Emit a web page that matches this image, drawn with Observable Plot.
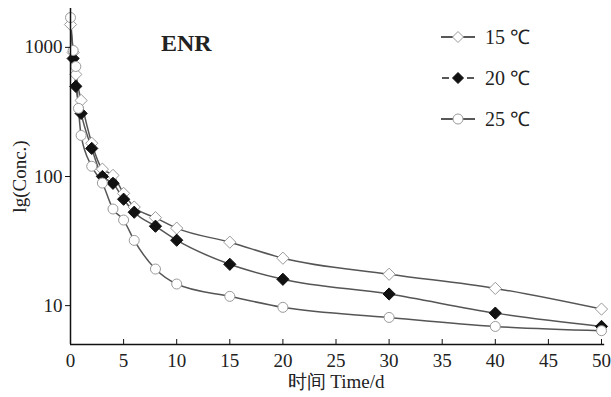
<!DOCTYPE html>
<html><head><meta charset="utf-8">
<script src="https://cdn.jsdelivr.net/npm/d3@7"></script>
<script src="https://cdn.jsdelivr.net/npm/@observablehq/plot@0.6"></script>
<style>
body{margin:0;background:#fff;}
#wrap{position:relative;width:611px;height:397px;font-family:"Liberation Serif","Times New Roman",serif;color:#222;}
#title{position:absolute;left:161px;top:30px;font-weight:bold;font-size:24px;}
#legend{position:absolute;left:438px;top:16px;}
.item{height:41px;display:flex;align-items:center;font-size:20px;}
.item svg{margin-right:7px;}
</style></head><body><div id="wrap"><div id="title">ENR</div><div id="legend"></div></div>
<script>
const seriesNames = ["15℃", "20℃", "25℃"];
const t15 = [0, 0.25, 0.5, 1, 2, 3, 4, 5, 6, 8, 10, 15, 20, 30, 40, 50];
const c15 = [1503, 913, 617, 388, 181, 114, 102, 74, 58, 48, 39.8, 31, 23.3, 17.5, 13.6, 9.4];
const t20 = [0.25, 0.5, 1, 2, 3, 4, 5, 6, 8, 10, 15, 20, 30, 40, 50];
const c20 = [820, 499, 308, 165, 100, 88.6, 66.7, 52.9, 41.2, 32.1, 20.9, 16.0, 12.3, 8.75, 6.9];
const t25 = [0, 0.25, 0.5, 0.75, 1, 2, 3, 4, 5, 6, 8, 10, 15, 20, 30, 40, 50];
const c25 = [1702, 946, 711, 337, 208, 120, 89, 56, 46, 32, 19.2, 14.7, 11.8, 9.7, 8.1, 6.9, 6.4];
const xTicks = [0, 5, 10, 15, 20, 25, 30, 35, 40, 45, 50];
const yTicks = [10, 100, 1000];

const times = [t15, t20, t25], concs = [c15, c20, c25];
const rows = seriesNames.flatMap((s, i) => times[i].map((t, j) => ({s, t, c: concs[i][j]})));
const bySeries = s => rows.filter(d => d.s === s);

const font = {fontFamily: '"Liberation Serif","Times New Roman",serif', fontSize: 19, color: "#222"};
const chart = Plot.plot({
  width: 611, height: 397,
  marginTop: 8, marginBottom: 53, marginLeft: 70, marginRight: 10,
  style: {...font, background: "transparent"},
  x: {domain: [0, 50]},
  y: {type: "log", domain: [5, 2000]},
  marks: [
    Plot.line(rows, {x: "t", y: "c", z: "s", stroke: "#555", strokeWidth: 1.5, curve: "monotone-x"}),
    Plot.dot(bySeries(seriesNames[0]), {x: "t", y: "c", symbol: "diamond2", r: 5.5, fill: "white", stroke: "#9a9a9a", strokeWidth: 1}),
    Plot.dot(bySeries(seriesNames[1]), {x: "t", y: "c", symbol: "diamond2", r: 5.5, fill: "#111", stroke: "#111", strokeWidth: 1}),
    Plot.dot(bySeries(seriesNames[2]), {x: "t", y: "c", symbol: "circle", r: 5, fill: "white", stroke: "#9a9a9a", strokeWidth: 1}),
    Plot.ruleX([0], {stroke: "#111", strokeWidth: 1.5}),
    Plot.ruleY([5], {x1: 0, x2: 50.3, stroke: "#111", strokeWidth: 1.5}),
    Plot.axisY({ticks: yTicks, tickSize: 5, tickPadding: 3, tickFormat: d => String(d), fontSize: 19, label: "lg(Conc.)", labelAnchor: "center", labelOffset: 58, labelArrow: "none", stroke: "#111"}),
    Plot.axisX({ticks: xTicks, tickSize: -5, tickPadding: 14, tickFormat: d => String(d), fontSize: 19, label: "时间 Time/d", labelAnchor: "center", labelOffset: 43, labelArrow: "none", stroke: "#111"})
  ]
});
document.getElementById("wrap").prepend(chart);

const legendStyles = [
  {dash: null, sym: "diamond", fill: "white", stroke: "#9a9a9a"},
  {dash: "7,9", sym: "diamond", fill: "#111", stroke: "#111"},
  {dash: null, sym: "circle", fill: "white", stroke: "#9a9a9a"}
];
const lg = document.getElementById("legend");
seriesNames.forEach((name, i) => {
  const st = legendStyles[i];
  const item = document.createElement("div");
  item.className = "item";
  const sym = st.sym === "circle"
    ? `<circle cx="20" cy="8" r="5" fill="${st.fill}" stroke="${st.stroke}"/>`
    : `<path d="M20,2.5L25.5,8L20,13.5L14.5,8Z" fill="${st.fill}" stroke="${st.stroke}"/>`;
  const line = st.dash
    ? `<path d="M4,8H11M29,8H36" stroke="#222" stroke-width="1.5"/>`
    : `<path d="M3,8H15M25,8H37" stroke="#222" stroke-width="1.5"/>`;
  item.innerHTML = `<svg width="40" height="16">${line}${sym}</svg><span>${name.replace("℃", " ℃")}</span>`;
  lg.appendChild(item);
});
</script></body></html>
